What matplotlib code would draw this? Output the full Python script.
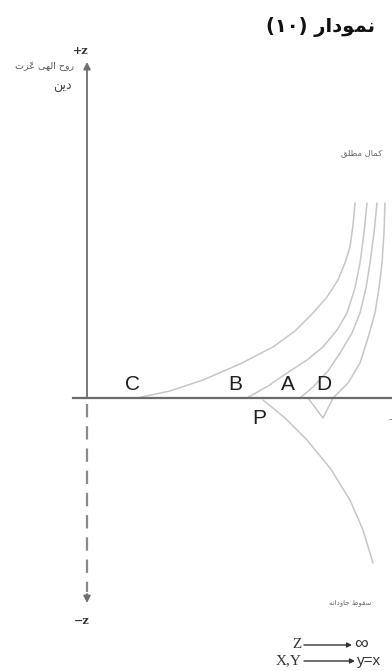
import matplotlib
matplotlib.use("Agg")
import matplotlib.pyplot as plt

# hand read points of the curves (pixel-like units, y grows downwards)
curve_c_x = [137, 170, 203, 240, 273, 295, 313, 327, 338, 345, 350, 353, 355]
curve_c_y = [398, 391, 380, 364, 347, 331, 313, 297, 280, 263, 247, 225, 203]
curve_b_x = [247, 268, 287, 307, 323, 337, 347, 355, 360, 364, 367]
curve_b_y = [398, 386, 373, 360, 347, 330, 313, 288, 263, 233, 203]
curve_a_x = [300, 313, 328, 340, 352, 360, 366, 370, 374, 377]
curve_a_y = [398, 387, 371, 353, 333, 313, 288, 263, 233, 203]
curve_d_x = [385, 384, 382, 379, 375, 368, 360, 348, 333, 323, 308]
curve_d_y = [203, 233, 263, 288, 313, 338, 363, 383, 398, 418, 398]
curve_p_x = [263, 285, 307, 330, 350, 363, 373]
curve_p_y = [400, 418, 440, 468, 500, 530, 563]

point_names = ["C", "B", "A", "D", "P"]
point_x = [133, 235, 288, 324, 259]
point_y = [384, 384, 384, 384, 419]

title_text = "نمودار (۱۰)"
top_label = "روح الهی عزّت"
top_label2 = "دین"
right_top_label = "کمال مطلق"
right_bottom_label = "سقوط جاودانه"

# --- tiny arabic shaper: matplotlib has no bidi / joining support ---
FORMS = {
    "ا": ("\uFE8D", "\uFE8E", None, None),
    "ت": ("\uFE95", "\uFE96", "\uFE97", "\uFE98"),
    "ج": ("\uFE9D", "\uFE9E", "\uFE9F", "\uFEA0"),
    "ح": ("\uFEA1", "\uFEA2", "\uFEA3", "\uFEA4"),
    "د": ("\uFEA9", "\uFEAA", None, None),
    "ر": ("\uFEAD", "\uFEAE", None, None),
    "ز": ("\uFEAF", "\uFEB0", None, None),
    "س": ("\uFEB1", "\uFEB2", "\uFEB3", "\uFEB4"),
    "ط": ("\uFEC1", "\uFEC2", "\uFEC3", "\uFEC4"),
    "ع": ("\uFEC9", "\uFECA", "\uFECB", "\uFECC"),
    "ق": ("\uFED5", "\uFED6", "\uFED7", "\uFED8"),
    "ک": ("\uFED9", "\uFEDA", "\uFEDB", "\uFEDC"),
    "ل": ("\uFEDD", "\uFEDE", "\uFEDF", "\uFEE0"),
    "م": ("\uFEE1", "\uFEE2", "\uFEE3", "\uFEE4"),
    "ن": ("\uFEE5", "\uFEE6", "\uFEE7", "\uFEE8"),
    "ه": ("\uFEE9", "\uFEEA", "\uFEEB", "\uFEEC"),
    "و": ("\uFEED", "\uFEEE", None, None),
    "ی": ("\uFEEF", "\uFEF0", "\uFEF3", "\uFEF4"),
}
MARKS = {"\u0651"}


def shape_word(w):
    if not any(ch in FORMS for ch in w):
        return w
    # clusters of base + marks
    clusters = []
    for ch in w:
        if ch in MARKS and clusters:
            clusters[-1][1].append(ch)
        else:
            clusters.append([ch, []])
    out = []
    for i, (ch, marks) in enumerate(clusters):
        f = FORMS.get(ch)
        if f is None:
            out.append(ch + "".join(marks))
            continue
        prev = FORMS.get(clusters[i - 1][0]) if i > 0 else None
        nxt = FORMS.get(clusters[i + 1][0]) if i + 1 < len(clusters) else None
        jp = prev is not None and prev[2] is not None
        jn = f[2] is not None and nxt is not None
        if jp and jn:
            g = f[3]
        elif jp:
            g = f[1]
        elif jn:
            g = f[2]
        else:
            g = f[0]
        out.append(g + "".join(marks))
    return "".join(reversed(out))


def rtl(s):
    return " ".join(shape_word(w) for w in reversed(s.split(" ")))


fig = plt.figure(figsize=(3.92, 6.71), dpi=100)
ax = fig.add_axes([0, 0, 1, 1])
ax.set_xlim(0, 392)
ax.set_ylim(671, 0)
ax.axis("off")

curve_col = "#c6c6c6"
for cx, cy in [(curve_c_x, curve_c_y), (curve_b_x, curve_b_y),
               (curve_a_x, curve_a_y), (curve_d_x, curve_d_y),
               (curve_p_x, curve_p_y)]:
    ax.plot(cx, cy, color=curve_col, lw=1.1, solid_capstyle="round")

# axes
ax.plot([73, 392], [398, 398], color="#6a6a6a", lw=1.6)
ax.annotate("", xy=(87, 62), xytext=(87, 398),
            arrowprops=dict(arrowstyle="-|>", color="#6e6e6e", lw=1.3,
                            mutation_scale=10, shrinkA=0, shrinkB=0))
ax.plot([87, 87], [404, 592], color="#8a8a8a", lw=1.6,
        linestyle=(0, (6.0, 4.0)))
ax.annotate("", xy=(87, 603), xytext=(87, 594),
            arrowprops=dict(arrowstyle="-|>", color="#6e6e6e", lw=1.3,
                            mutation_scale=10, shrinkA=0, shrinkB=0))

ax.text(81, 50, "+z", fontsize=8, fontweight="bold", color="#333",
        ha="center", va="center", family="DejaVu Serif")
ax.text(82, 620, "\u2212z", fontsize=8, fontweight="bold", color="#333",
        ha="center", va="center", family="DejaVu Serif")

# point labels
for name, px, py in zip(point_names, point_x, point_y):
    ax.text(px, py, name, fontsize=15, color="#1e1e1e", ha="center",
            va="center", family="Liberation Sans")

# persian texts
ax.text(375, 27, rtl(title_text), fontsize=14, fontweight="bold",
        color="#111", ha="right", va="center", family="DejaVu Sans")
ax.text(45, 66, rtl(top_label), fontsize=6.8, color="#555",
        ha="center", va="center", family="DejaVu Sans")
ax.text(62, 86, rtl(top_label2), fontsize=9, color="#444",
        ha="center", va="center", family="DejaVu Sans")
ax.text(362, 153, rtl(right_top_label), fontsize=6, color="#666",
        ha="center", va="center", family="DejaVu Sans")
ax.text(350, 603, rtl(right_bottom_label), fontsize=5, color="#666",
        ha="center", va="center", family="DejaVu Sans")

ax.text(392, 419, "-", fontsize=8, color="#777", ha="right", va="center")

# limits note at the bottom
ax.text(302, 645, "Z", fontsize=11, color="#333", ha="right", va="center",
        family="Liberation Serif")
ax.annotate("", xy=(352, 645), xytext=(304, 645),
            arrowprops=dict(arrowstyle="-|>", color="#333", lw=1.0,
                            mutation_scale=7, shrinkA=0, shrinkB=0))
ax.text(354, 644, "\u221e", fontsize=14, color="#333", ha="left",
        va="center", family="Liberation Sans")
ax.text(302, 661, "X,Y", fontsize=11, color="#333", ha="right", va="center",
        family="Liberation Serif")
ax.annotate("", xy=(355, 661), xytext=(304, 661),
            arrowprops=dict(arrowstyle="-|>", color="#333", lw=1.0,
                            mutation_scale=7, shrinkA=0, shrinkB=0))
ax.text(357, 661, "y=x", fontsize=11, color="#333", ha="left", va="center",
        family="Liberation Sans")

fig.savefig("out.png", dpi=100)
